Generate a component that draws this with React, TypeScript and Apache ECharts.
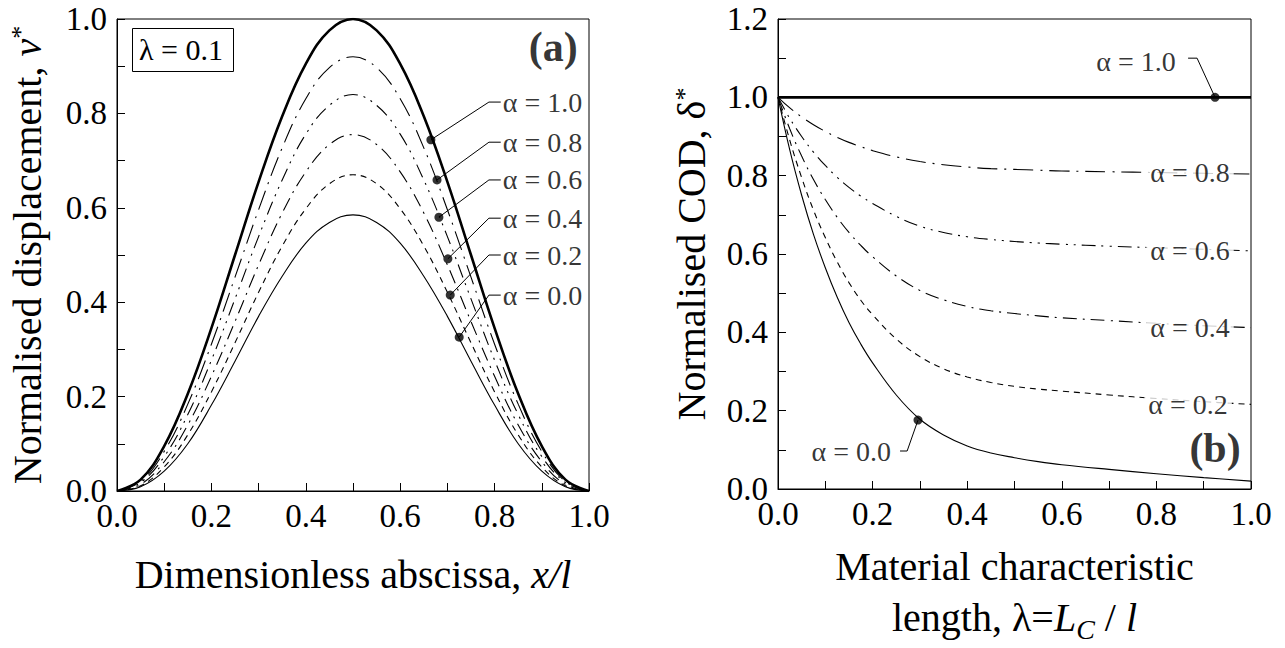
import React, { useEffect, useRef } from "react";
import * as echarts from "echarts";

const FONT = "Liberation Serif";

// Panel (a): normalised displacement v* vs x/l
const X_DISP = [0, 0.05, 0.1, 0.15, 0.2, 0.25, 0.3, 0.35, 0.4, 0.45, 0.5, 0.55, 0.6, 0.65, 0.7, 0.75, 0.8, 0.85, 0.9, 0.95, 1.0];
const DISP_A00 = [0, 0.009, 0.042, 0.1, 0.182, 0.275, 0.37, 0.455, 0.525, 0.569, 0.585, 0.569, 0.525, 0.455, 0.37, 0.275, 0.182, 0.1, 0.042, 0.009, 0];
const DISP_A02 = [0, 0.011, 0.051, 0.119, 0.21, 0.314, 0.421, 0.519, 0.598, 0.651, 0.67, 0.651, 0.598, 0.519, 0.421, 0.314, 0.21, 0.119, 0.051, 0.011, 0];
const DISP_A04 = [0, 0.014, 0.062, 0.14, 0.243, 0.359, 0.479, 0.589, 0.676, 0.734, 0.755, 0.734, 0.676, 0.589, 0.479, 0.359, 0.243, 0.14, 0.062, 0.014, 0];
const DISP_A06 = [0, 0.018, 0.073, 0.162, 0.277, 0.407, 0.539, 0.659, 0.756, 0.817, 0.84, 0.817, 0.756, 0.659, 0.539, 0.407, 0.277, 0.162, 0.073, 0.018, 0];
const DISP_A08 = [0, 0.02, 0.084, 0.184, 0.311, 0.453, 0.596, 0.727, 0.831, 0.897, 0.92, 0.897, 0.831, 0.727, 0.596, 0.453, 0.311, 0.184, 0.084, 0.02, 0];
const DISP_A10 = [0, 0.024, 0.095, 0.206, 0.345, 0.5, 0.655, 0.794, 0.905, 0.976, 1.0, 0.976, 0.905, 0.794, 0.655, 0.5, 0.345, 0.206, 0.095, 0.024, 0];
const DISP_MARKERS = [[0.665, 0.744], [0.678, 0.659], [0.682, 0.58], [0.701, 0.492], [0.706, 0.415], [0.725, 0.326]];
const DISP_LABEL_Y = [0.824, 0.739, 0.659, 0.578, 0.5, 0.415];
const ALPHA_NAMES = ["α = 1.0", "α = 0.8", "α = 0.6", "α = 0.4", "α = 0.2", "α = 0.0"];

// Panel (b): normalised COD delta* vs lambda
const LAMBDA = [0, 0.025, 0.05, 0.075, 0.1, 0.125, 0.15, 0.175, 0.2, 0.25, 0.3, 0.35, 0.4, 0.45, 0.5, 0.55, 0.6, 0.7, 0.8, 0.9, 1.0];
const COD_A00 = [1.0, 0.865, 0.75, 0.65, 0.565, 0.49, 0.425, 0.37, 0.322, 0.24, 0.178, 0.138, 0.11, 0.092, 0.08, 0.07, 0.062, 0.05, 0.039, 0.029, 0.02];
const COD_A02 = [1.0, 0.89, 0.795, 0.712, 0.642, 0.58, 0.527, 0.482, 0.445, 0.383, 0.338, 0.307, 0.286, 0.272, 0.262, 0.255, 0.25, 0.24, 0.231, 0.223, 0.216];
const COD_A04 = [1.0, 0.919, 0.85, 0.79, 0.739, 0.694, 0.655, 0.622, 0.593, 0.544, 0.507, 0.483, 0.466, 0.455, 0.448, 0.442, 0.437, 0.43, 0.423, 0.417, 0.412];
const COD_A06 = [1.0, 0.946, 0.9, 0.86, 0.826, 0.796, 0.77, 0.748, 0.729, 0.696, 0.671, 0.655, 0.644, 0.637, 0.632, 0.628, 0.625, 0.62, 0.616, 0.612, 0.608];
const COD_A08 = [1.0, 0.973, 0.95, 0.93, 0.913, 0.898, 0.885, 0.874, 0.864, 0.848, 0.836, 0.828, 0.822, 0.818, 0.816, 0.814, 0.812, 0.81, 0.808, 0.806, 0.804];
const COD_A10 = [1.0, 1.0, 1.0, 1.0, 1.0, 1.0, 1.0, 1.0, 1.0, 1.0, 1.0, 1.0, 1.0, 1.0, 1.0, 1.0, 1.0, 1.0, 1.0, 1.0, 1.0];
const COD_ON_CURVE_LABELS = [[0.871, 0.808, "α = 0.8"], [0.871, 0.608, "α = 0.6"], [0.871, 0.412, "α = 0.4"], [0.867, 0.216, "α = 0.2"]];

const STYLES: any[] = [
  { width: 2.6, type: "solid" },
  { width: 1.1, type: [20, 7, 2, 7] },
  { width: 1.1, type: [14, 6, 2, 6, 2, 6] },
  { width: 1.1, type: [14, 6, 2, 6] },
  { width: 1.1, type: [6, 5] },
  { width: 1.1, type: "solid" },
];

const TITLE = 40;
const TICK = 33;
const ALPHA = 28;

const pairs = (xs: number[], ys: number[]) => xs.map((x, i) => [x, ys[i]]);

function axisLabelFmt(v: number) {
  return Math.round(v * 10) % 2 === 0 ? v.toFixed(1) : "";
}

function makeX(gridIndex: number, name: string, gap: number, rich: any) {
  return {
    type: "value",
    gridIndex,
    min: 0,
    max: 1,
    interval: 0.1,
    name,
    nameLocation: "middle",
    nameGap: gap,
    nameTextStyle: { fontFamily: FONT, fontSize: TITLE, color: "#000", lineHeight: 51, rich },
    axisLine: { show: true, lineStyle: { color: "#000", width: 1 } },
    axisTick: { show: true, inside: true, length: 8, lineStyle: { color: "#000", width: 1 } },
    axisLabel: { formatter: axisLabelFmt, fontFamily: FONT, fontSize: TICK, color: "#000", margin: 8 },
    splitLine: { show: false },
  };
}

function makeY(gridIndex: number, max: number, name: string, gap: number, rich: any) {
  return {
    type: "value",
    gridIndex,
    min: 0,
    max,
    interval: 0.1,
    name,
    nameLocation: "middle",
    nameRotate: 90,
    nameGap: gap,
    nameTextStyle: { fontFamily: FONT, fontSize: TITLE, color: "#000", rich },
    axisLine: { show: true, lineStyle: { color: "#000", width: 1 } },
    axisTick: { show: true, inside: true, length: 8, lineStyle: { color: "#000", width: 1 } },
    axisLabel: { formatter: axisLabelFmt, fontFamily: FONT, fontSize: TICK, color: "#000", margin: 10 },
    splitLine: { show: false },
  };
}

const richCommon = {
  i: { fontFamily: FONT, fontSize: TITLE, fontStyle: "italic", color: "#000" },
  n: { fontFamily: FONT, fontSize: TITLE, color: "#000" },
  sup: { fontFamily: FONT, fontSize: 26, color: "#000", verticalAlign: "top" },
  sub: { fontFamily: FONT, fontSize: 28, fontStyle: "italic", color: "#000", verticalAlign: "bottom" },
};

function lineSeries(xi: number, data: any[], style: any, z = 2) {
  return {
    type: "line",
    xAxisIndex: xi,
    yAxisIndex: xi,
    data,
    smooth: 0.4,
    symbol: "none",
    silent: true,
    z,
    lineStyle: { color: "#000", width: style.width, type: style.type },
  };
}

function textSeries(xi: number, data: any[], fontSize: number, opts: any = {}) {
  return {
    type: "scatter",
    xAxisIndex: xi,
    yAxisIndex: xi,
    symbolSize: 0,
    silent: true,
    z: 6,
    data: data.map((d) => ({ value: [d[0], d[1]], name: d[2] })),
    label: {
      show: true,
      formatter: (p: any) => p.name,
      fontFamily: FONT,
      fontSize,
      color: "#000",
      position: "inside",
      ...opts,
    },
  };
}

function leader(xi: number, data: number[][]) {
  return {
    type: "line",
    xAxisIndex: xi,
    yAxisIndex: xi,
    data,
    symbol: "none",
    silent: true,
    z: 4,
    lineStyle: { color: "#000", width: 1 },
  };
}

export default function App() {
  const ref = useRef<HTMLDivElement>(null);
  useEffect(() => {
    const chart = echarts.init(ref.current!, null, { renderer: "svg" });
    const dispSeries = [DISP_A10, DISP_A08, DISP_A06, DISP_A04, DISP_A02, DISP_A00];
    const codSeries = [COD_A10, COD_A08, COD_A06, COD_A04, COD_A02, COD_A00];

    const series: any[] = [];
    dispSeries.forEach((ys, k) => series.push(lineSeries(0, pairs(X_DISP, ys), STYLES[k], k === 0 ? 3 : 2)));
    codSeries.forEach((ys, k) => series.push(lineSeries(1, pairs(LAMBDA, ys), STYLES[k], k === 0 ? 3 : 2)));

    // leaders panel (a)
    DISP_MARKERS.forEach((m, k) => {
      series.push(leader(0, [m, [0.788, DISP_LABEL_Y[k]], [0.813, DISP_LABEL_Y[k]]]));
    });
    series.push({
      type: "scatter",
      xAxisIndex: 0,
      yAxisIndex: 0,
      symbolSize: 9,
      silent: true,
      z: 5,
      itemStyle: { color: "#000" },
      data: DISP_MARKERS,
    });
    series.push(
      textSeries(0, DISP_LABEL_Y.map((y, k) => [0.813, y, ALPHA_NAMES[k]]), ALPHA, { position: "right", distance: 2 })
    );
    series.push(textSeries(0, [[0.924, 0.94, "(a)"]], 42, { fontWeight: "bold" }));

    // panel (b) annotations
    series.push(leader(1, [[0.924, 1.0], [0.886, 1.1], [0.867, 1.1]]));
    series.push(leader(1, [[0.296, 0.176], [0.273, 0.097], [0.258, 0.097]]));
    series.push({
      type: "scatter",
      xAxisIndex: 1,
      yAxisIndex: 1,
      symbolSize: 9,
      silent: true,
      z: 5,
      itemStyle: { color: "#000" },
      data: [[0.924, 1.0], [0.296, 0.176]],
    });
    series.push(textSeries(1, [[0.757, 1.091, "α = 1.0"], [0.155, 0.097, "α = 0.0"]], ALPHA));
    series.push(textSeries(1, COD_ON_CURVE_LABELS, ALPHA, { backgroundColor: "#fff", padding: [0, 4] }));
    series.push(textSeries(1, [[0.924, 0.104, "(b)"]], 42, { fontWeight: "bold" }));

    const option: any = {
      animation: false,
      backgroundColor: "#fff",
      textStyle: { fontFamily: FONT },
      grid: [
        { left: 117, top: 19, width: 472, height: 472, show: true, borderColor: "#000", borderWidth: 1, backgroundColor: "transparent" },
        { left: 778, top: 19, width: 473, height: 472, show: true, borderColor: "#000", borderWidth: 1, backgroundColor: "transparent" },
      ],
      xAxis: [
        makeX(0, "{n|Dimensionless abscissa, }{i|x/l}", 58, richCommon),
        makeX(1, "{n|Material characteristic}\n{n|length, λ=}{i|L}{sub|C}{n| / }{i|l}", 52, {
          ...richCommon,
          n: { ...richCommon.n, lineHeight: 51 },
          i: { ...richCommon.i, lineHeight: 51 },
        }),
      ],
      yAxis: [
        makeY(0, 1, "{n|Normalised displacement, }{i|v}{sup|*}", 70, richCommon),
        makeY(1, 1.2, "{n|Normalised COD, δ}{sup|*}", 67, richCommon),
      ],
      graphic: [
        { type: "rect", left: 132, top: 28, shape: { width: 101, height: 43 }, style: { fill: "#fff", stroke: "#000", lineWidth: 1 }, z: 10 },
        { type: "text", left: 139, top: 34, style: { text: "λ = 0.1", font: `30px ${FONT}`, fill: "#000" }, z: 11 },
      ],
      series,
    };
    chart.setOption(option);
    return () => chart.dispose();
  }, []);
  return <div ref={ref} style={{ position: "fixed", left: 0, top: 0, width: 1285, height: 648, background: "#fff" }} />;
}
